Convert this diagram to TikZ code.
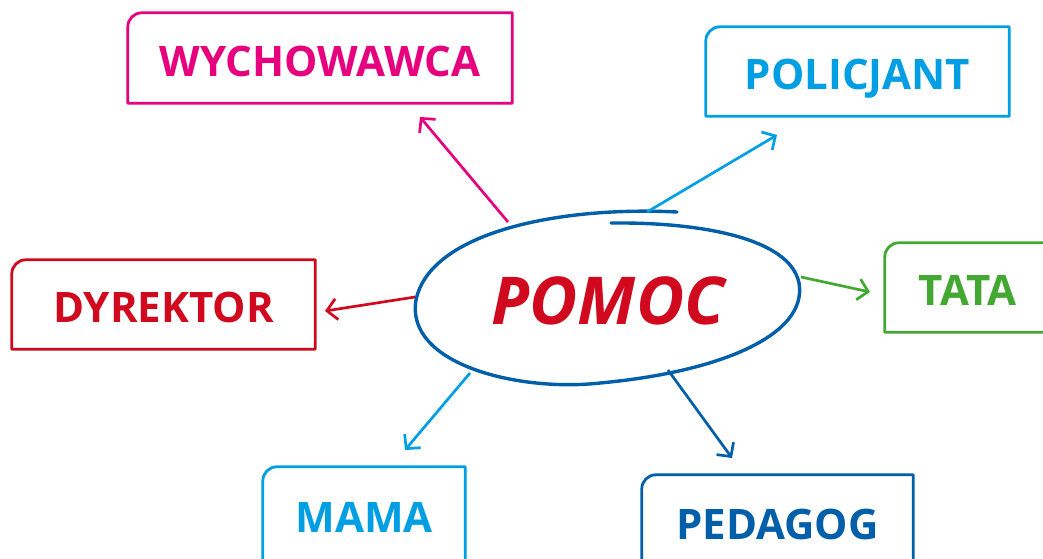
\documentclass[tikz,border=0pt]{standalone}
\usepackage{fontspec}
\setmainfont{Open Sans}
\usetikzlibrary{arrows.meta}
\definecolor{hotpink}{HTML}{E6007E}
\definecolor{skyblue}{HTML}{009FE3}
\definecolor{grassgreen}{HTML}{43A832}
\definecolor{darkred}{HTML}{D0091E}
\definecolor{navyblue}{HTML}{005FA8}
\tikzset{>={Straight Barb[length=10pt,width=21pt]}}
\tikzstyle{labelbox}=[inner sep=0pt,text height=36pt,text depth=0pt,font=\fontsize{42}{42}\selectfont\bfseries]
\tikzstyle{link}=[->,line width=2.7pt]
\newcommand{\labelframe}[2]{\draw[#2,line width=2.8pt,line join=round] (#1.south west) -- ([yshift=-14pt]#1.north west) arc[start angle=180,end angle=90,radius=14pt] -- (#1.north east) -- (#1.south east) -- cycle;}

\begin{document}
\begin{tikzpicture}[x=1pt,y=-1pt]
	\useasboundingbox (0,0) rectangle (1043,558);
	\clip (0,0) rectangle (1043,558);

	% centre
	\node[inner sep=0pt,text height=47pt,text depth=0pt,text=darkred,font=\fontsize{66}{66}\selectfont\bfseries\itshape] (pomoc) at (608,301) {POMOC};
	\draw[navyblue,line width=3.4pt,line cap=round] (677,212) .. controls (560,206) and (430,232) .. (416,300)
		.. controls (405,365) and (520,392) .. (600,383)
		.. controls (720,372) and (808,335) .. (799,283)
		.. controls (790,238) and (700,222) .. (611,223);

	% boxes
	\node[labelbox,text=hotpink,minimum width=384pt,minimum height=90pt] (wych) at (320,58) {WYCHOWAWCA};
	\node[labelbox,text=skyblue,minimum width=303pt,minimum height=89pt] (polic) at (857.5,71.5) {POLICJANT};
	\node[labelbox,text=grassgreen,minimum width=165pt,minimum height=89pt] (tata) at (967.5,287.5) {TATA};
	\node[labelbox,text=darkred,minimum width=303pt,minimum height=89pt] (dyrek) at (163.5,304.5) {DYREKTOR};
	\node[labelbox,text=skyblue,minimum width=202pt,minimum height=95pt] (mama) at (364,514.5) {MAMA};
	\node[labelbox,text=navyblue,minimum width=271pt,minimum height=93pt] (pedag) at (777.5,521.5) {PEDAGOG};
	\labelframe{wych}{hotpink}
	\labelframe{polic}{skyblue}
	\labelframe{tata}{grassgreen}
	\labelframe{dyrek}{darkred}
	\labelframe{mama}{skyblue}
	\labelframe{pedag}{navyblue}

	% arrows
	\coordinate (wych0) at (508,222);   \coordinate (wych1) at (420,117);
	\coordinate (polic0) at (647,212);  \coordinate (polic1) at (777,135);
	\coordinate (tata0) at (801,277);   \coordinate (tata1) at (870,292);
	\coordinate (dyrek0) at (415,297);  \coordinate (dyrek1) at (325,311);
	\coordinate (mama0) at (470,373);   \coordinate (mama1) at (405,450);
	\coordinate (pedag0) at (668,370);  \coordinate (pedag1) at (732,458);

	\draw[link,hotpink] (wych0) -- (wych1);
	\draw[link,skyblue] (polic0) -- (polic1);
	\draw[link,grassgreen] (tata0) -- (tata1);
	\draw[link,darkred] (dyrek0) -- (dyrek1);
	\draw[link,skyblue] (mama0) -- (mama1);
	\draw[link,navyblue] (pedag0) -- (pedag1);
\end{tikzpicture}
\end{document}
